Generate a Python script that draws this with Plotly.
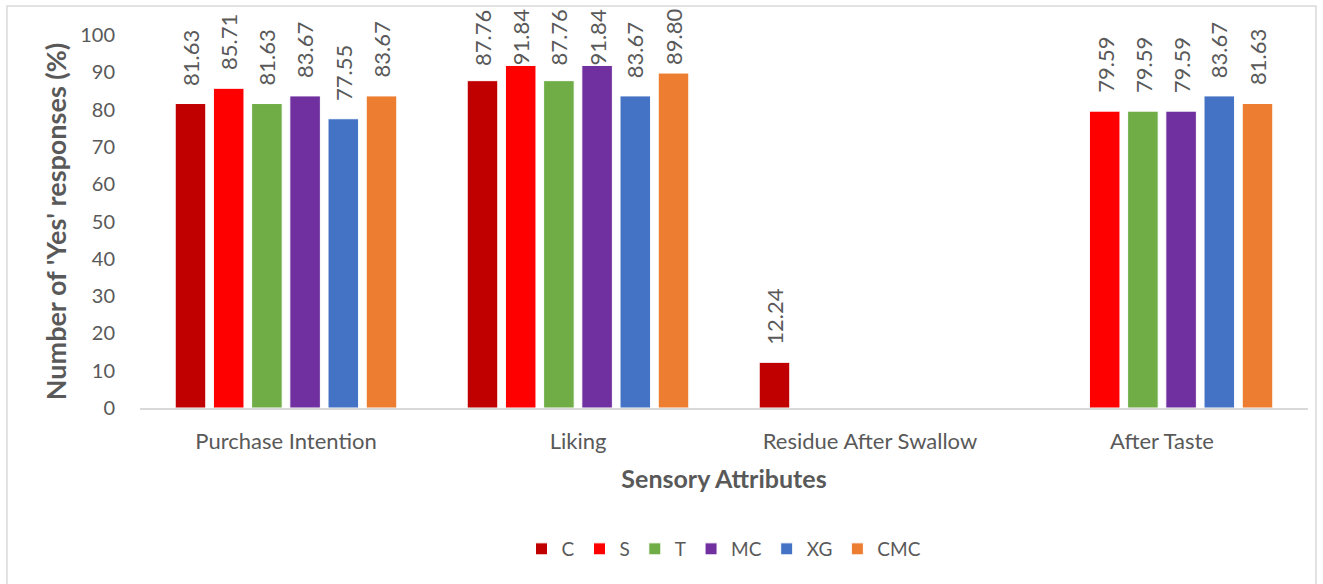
import plotly.graph_objects as go

categories = ["Purchase Intention", "Liking", "Residue After Swallow", "After Taste"]
series_names = ["C", "S", "T", "MC", "XG", "CMC"]
C_vals = [81.63, 87.76, 12.24, None]
S_vals = [85.71, 91.84, None, 79.59]
T_vals = [81.63, 87.76, None, 79.59]
MC_vals = [83.67, 91.84, None, 79.59]
XG_vals = [77.55, 83.67, None, 83.67]
CMC_vals = [83.67, 89.80, None, 81.63]
y_ticks = [0, 10, 20, 30, 40, 50, 60, 70, 80, 90, 100]

values = [C_vals, S_vals, T_vals, MC_vals, XG_vals, CMC_vals]
colors = ["#C00000", "#FF0000", "#70AD47", "#7030A0", "#4472C4", "#ED7D31"]

FONT = "Lato, Open Sans, sans-serif"
GRAY = "#595959"
BARGAP = 0.215
LABEL_CAP = 87.0  # labels are kept inside the chart area, as in the original

fig = go.Figure()
for name, vals, col in zip(series_names, values, colors):
    fig.add_trace(go.Bar(
        name=name, x=categories, y=vals,
        marker=dict(color=col, line=dict(color="white", width=1)),
    ))

# data labels (rotated), placed at the grouped-bar slot centres on the category axis
n = len(series_names)
slot = (1 - BARGAP) / n
for j, vals in enumerate(values):
    for i, v in enumerate(vals):
        if v is None:
            continue
        fig.add_annotation(
            x=i + (j - (n - 1) / 2) * slot, y=min(v, LABEL_CAP),
            xref="x", yref="y", text=f"{v:.2f}", showarrow=False,
            textangle=-90, xanchor="center", yanchor="bottom", yshift=16,
            font=dict(family=FONT, size=22, color=GRAY),
        )

fig.update_layout(
    width=1323, height=584,
    barmode="group", bargap=BARGAP, bargroupgap=0.2,
    paper_bgcolor="white", plot_bgcolor="white",
    margin=dict(l=140, r=15, t=35, b=176, autoexpand=False),
    font=dict(family=FONT, color=GRAY),
    xaxis=dict(
        showline=True, linecolor="#D9D9D9", linewidth=1.5,
        tickfont=dict(family=FONT, size=22, color=GRAY),
        title=dict(text="<b>Sensory Attributes</b>", font=dict(family=FONT, size=25, color=GRAY), standoff=17),
        ticks="outside", ticklen=13, tickcolor="rgba(0,0,0,0)",
    ),
    yaxis=dict(
        range=[0, 100], tickvals=y_ticks, showgrid=False, zeroline=False,
        showline=False,
        tickfont=dict(family=FONT, size=20, color=GRAY),
        title=dict(text="<b>Number of 'Yes' responses (%)</b>", font=dict(family=FONT, size=27, color=GRAY), standoff=5),
        ticks="outside", ticklen=20, tickcolor="rgba(0,0,0,0)",
    ),
    legend=dict(
        orientation="h", x=0.5, xanchor="center", y=-0.378, yanchor="middle",
        font=dict(family=FONT, size=19, color=GRAY),
        itemwidth=30, traceorder="normal",
    ),
    showlegend=True,
)

fig.add_shape(
    type="rect", xref="paper", yref="paper",
    x0=-0.1139, x1=1.0068, y0=-0.49, y1=1.0777,
    line=dict(color="#D9D9D9", width=1.5), fillcolor="rgba(0,0,0,0)", layer="below",
)

fig.write_html("out.html", config={"displayModeBar": False},
               post_script="document.body.style.margin='0px';")
